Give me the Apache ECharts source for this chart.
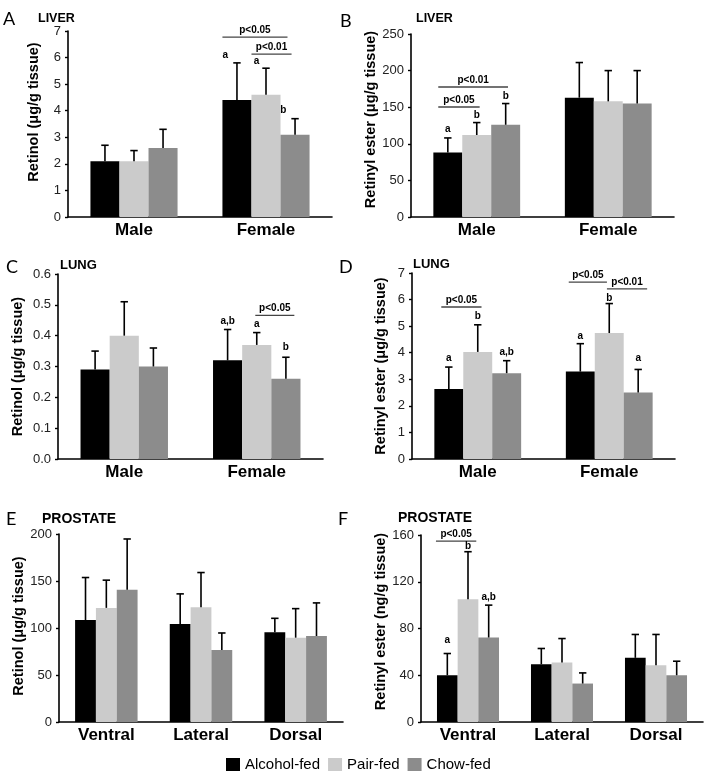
<!DOCTYPE html>
<html><head><meta charset="utf-8">
<script src="https://cdn.jsdelivr.net/npm/echarts@6/dist/echarts.min.js"></script>
<style>html,body{margin:0;padding:0;background:#fff}#c{width:706px;height:776px}</style>
</head><body><div id="c"></div>
<script>
// ---------- data ----------
const groupNames = ['Alcohol-fed', 'Pair-fed', 'Chow-fed'];
const sexCats = ['Male', 'Female'];
const lobeCats = ['Ventral', 'Lateral', 'Dorsal'];

// A: Liver retinol (µg/g)
const aAlcohol = [2.1, 4.4], aPair = [2.1, 4.6], aChow = [2.6, 3.1];
const aAlcoholErr = [2.7, 5.8], aPairErr = [2.5, 5.6], aChowErr = [3.3, 3.7];
// B: Liver retinyl ester (µg/g)
const bAlcohol = [88, 163], bPair = [112, 158], bChow = [126, 155];
const bAlcoholErr = [108, 211], bPairErr = [129, 200], bChowErr = [155, 200];
// C: Lung retinol (µg/g)
const cAlcohol = [0.29, 0.32], cPair = [0.40, 0.37], cChow = [0.30, 0.26];
const cAlcoholErr = [0.35, 0.42], cPairErr = [0.51, 0.41], cChowErr = [0.36, 0.33];
// D: Lung retinyl ester (µg/g)
const dAlcohol = [2.63, 3.29], dPair = [4.03, 4.74], dChow = [3.23, 2.5];
const dAlcoholErr = [3.46, 4.34], dPairErr = [5.05, 5.85], dChowErr = [3.7, 3.37];
// E: Prostate retinol (µg/g)
const eAlcohol = [108.5, 104.3, 95.4], ePair = [121.4, 122, 89.7], eChow = [140.6, 76.5, 91.5];
const eAlcoholErr = [153.7, 136.3, 110.3], ePairErr = [150.9, 159, 120.6], eChowErr = [194.7, 94.7, 126.7];
// F: Prostate retinyl ester (ng/g)
const fAlcohol = [40, 49.4, 54.9], fPair = [105.1, 50.9, 48.6], fChow = [72.3, 32.9, 40];
const fAlcoholErr = [58.6, 62.9, 74.9], fPairErr = [145.7, 71.4, 74.9], fChowErr = [100, 42, 52];

// axis ranges / ticks
const aTicks = {min: 0, max: 7, interval: 1};
const bTicks = {min: 0, max: 250, interval: 50};
const cTicks = {min: 0, max: 0.6, interval: 0.1};
const dTicks = {min: 0, max: 7, interval: 1};
const eTicks = {min: 0, max: 200, interval: 50};
const fTicks = {min: 0, max: 160, interval: 40};

// significance brackets: [category, fromBar, toBar, yValue, text]
const aBrackets = [[1, 0.0, 2.24, 6.77, 'p<0.05'], [1, 1.0, 2.38, 6.13, 'p<0.01']];
const bBrackets = [[0, 0.17, 2.58, 177.6, 'p<0.01'], [0, 0.17, 1.6, 150.3, 'p<0.05']];
const cBrackets = [[1, 1.45, 2.79, 0.466, 'p<0.05']];
const dBrackets = [[0, 0.24, 1.63, 5.72, 'p<0.05'], [1, 0.1, 1.42, 6.66, 'p<0.05'], [1, 1.42, 2.81, 6.40, 'p<0.01']];
const eBrackets = [];
const fBrackets = [[0, -0.05, 1.9, 154.8, 'p<0.05']];

// letter labels: [category, barPosition, yValue, text]
const aLetters = [[1, 0.1, 6.1, 'a'], [1, 1.17, 5.87, 'a'], [1, 2.1, 4.03, 'b']];
const bLetters = [[0, 0.5, 120, 'a'], [0, 1.5, 139, 'b'], [0, 2.5, 165, 'b']];
const cLetters = [[1, 0.5, 0.448, 'a,b'], [1, 1.5, 0.436, 'a'], [1, 2.5, 0.363, 'b']];
const dLetters = [[0, 0.5, 3.80, 'a'], [0, 1.5, 5.38, 'b'], [0, 2.5, 4.03, 'a,b'],
                  [1, 0.5, 4.63, 'a'], [1, 1.5, 6.06, 'b'], [1, 2.5, 3.80, 'a']];
const eLetters = [];
const fLetters = [[0, 0.5, 70, 'a'], [0, 1.5, 150.6, 'b'], [0, 2.5, 107, 'a,b']];

// ---------- styling ----------
const colors = ['#000000', '#cbcbcb', '#8c8c8c'];
const FONT = 'Liberation Sans, Arial, sans-serif';
const BAR_FRAC = 0.22;

const panels = [
  {grid: {left: 68, top: 31, width: 264, height: 186}, cats: sexCats, ticks: aTicks,
   means: [aAlcohol, aPair, aChow], errs: [aAlcoholErr, aPairErr, aChowErr],
   name: 'Retinol (\u03bcg/g tissue)', nameGap: 27, namePad: [0, 0, 0, 24], brackets: aBrackets, letters: aLetters, dec: 0},
  {grid: {left: 411, top: 34, width: 263, height: 183}, cats: sexCats, ticks: bTicks,
   means: [bAlcohol, bPair, bChow], errs: [bAlcoholErr, bPairErr, bChowErr],
   name: 'Retinyl ester (\u03bcg/g tissue)', nameGap: 22, namePad: [0, 0, 0, 12], brackets: bBrackets, letters: bLetters, dec: 0},
  {grid: {left: 58, top: 274, width: 265, height: 185}, cats: sexCats, ticks: cTicks,
   means: [cAlcohol, cPair, cChow], errs: [cAlcoholErr, cPairErr, cChowErr],
   name: 'Retinol (\u03bcg/g tissue)', nameGap: 33, namePad: [0, 0, 0, 0], brackets: cBrackets, letters: cLetters, dec: 1},
  {grid: {left: 412, top: 273, width: 263, height: 186}, cats: sexCats, ticks: dTicks,
   means: [dAlcohol, dPair, dChow], errs: [dAlcoholErr, dPairErr, dChowErr],
   name: 'Retinyl ester (\u03bcg/g tissue)', nameGap: 24, namePad: [0, 0, 0, 0], brackets: dBrackets, letters: dLetters, dec: 0},
  {grid: {left: 59, top: 534, width: 284, height: 188}, cats: lobeCats, ticks: eTicks,
   means: [eAlcohol, ePair, eChow], errs: [eAlcoholErr, ePairErr, eChowErr],
   name: 'Retinol (\u03bcg/g tissue)', nameGap: 32, namePad: [0, 0, 0, 4], brackets: eBrackets, letters: eLetters, dec: 0},
  {grid: {left: 421, top: 535, width: 282, height: 187}, cats: lobeCats, ticks: fTicks,
   means: [fAlcohol, fPair, fChow], errs: [fAlcoholErr, fPairErr, fChowErr],
   name: 'Retinyl ester (ng/g tissue)', nameGap: 32, namePad: [0, 0, 0, 14], brackets: fBrackets, letters: fLetters, dec: 0}
];

const titles = [
  ['A', 3, 10, 18, 'normal'], ['LIVER', 38, 12, 12.5, 'bold'],
  ['B', 340, 12, 18, 'normal'], ['LIVER', 416, 12, 12.5, 'bold'],
  ['C', 6, 258, 18, 'normal'], ['LUNG', 60, 259, 13, 'bold'],
  ['D', 339, 258, 18, 'normal'], ['LUNG', 413, 258, 13, 'bold'],
  ['E', 6, 510, 18, 'normal'], ['PROSTATE', 42, 512, 14, 'bold'],
  ['F', 338, 510, 18, 'normal'], ['PROSTATE', 398, 511, 14, 'bold']
];

const grids = [], xAxes = [], yAxes = [], series = [];

function barX(api, cat, pos) {
  const band = api.size([1, 0])[0];
  const bw = band * BAR_FRAC;
  return api.coord([cat, 0])[0] - 1.5 * bw + pos * bw;
}

panels.forEach((p, i) => {
  grids.push(Object.assign({containLabel: false}, p.grid));
  xAxes.push({
    type: 'category', gridIndex: i, data: p.cats,
    axisLine: {lineStyle: {color: '#000', width: 1.6}},
    axisTick: {show: false},
    axisLabel: {fontFamily: FONT, fontWeight: 'bold', fontSize: 17, color: '#000', margin: 5}
  });
  yAxes.push({
    type: 'value', gridIndex: i, min: p.ticks.min, max: p.ticks.max, interval: p.ticks.interval,
    name: p.name, nameLocation: 'middle', nameGap: p.nameGap,
    nameTextStyle: {fontFamily: FONT, fontWeight: 'bold', fontSize: 14.5, color: '#000', padding: p.namePad},
    axisLine: {show: true, lineStyle: {color: '#000', width: 1.6}},
    axisTick: {show: true, length: 3, lineStyle: {color: '#000', width: 1.4}},
    splitLine: {show: false},
    axisLabel: {fontFamily: FONT, fontSize: 13, color: '#222', margin: 7,
      formatter: v => v.toFixed(p.dec)}
  });
  p.means.forEach((m, g) => {
    series.push({
      type: 'bar', name: groupNames[g], xAxisIndex: i, yAxisIndex: i, data: m,
      barWidth: (BAR_FRAC * 100) + '%', barGap: '0%',
      itemStyle: {color: colors[g]}, silent: true, z: 2
    });
  });
  // error bars
  const errData = [];
  p.means.forEach((m, g) => m.forEach((v, c) => errData.push([c, g, v, p.errs[g][c]])));
  series.push({
    type: 'custom', xAxisIndex: i, yAxisIndex: i, data: errData, z: 3, silent: true,
    encode: {x: 0, y: 3},
    renderItem: (params, api) => {
      const c = api.value(0), g = api.value(1);
      const x = barX(api, c, g + 0.5);
      const y0 = api.coord([c, api.value(2)])[1];
      const y1 = api.coord([c, api.value(3)])[1];
      const st = {stroke: '#000', lineWidth: 1.6};
      return {type: 'group', children: [
        {type: 'line', shape: {x1: x, y1: y0, x2: x, y2: y1}, style: st},
        {type: 'line', shape: {x1: x - 3.7, y1: y1, x2: x + 3.7, y2: y1}, style: st}
      ]};
    }
  });
  // brackets
  if (p.brackets.length) {
    series.push({
      type: 'custom', xAxisIndex: i, yAxisIndex: i, z: 4, silent: true,
      data: p.brackets.map(b => [b[0], b[3]]),
      renderItem: (params, api) => {
        const b = p.brackets[params.dataIndex];
        const x1 = barX(api, b[0], b[1]), x2 = barX(api, b[0], b[2]);
        const y = api.coord([b[0], b[3]])[1];
        return {type: 'group', children: [
          {type: 'line', shape: {x1: x1, y1: y, x2: x2, y2: y}, style: {stroke: '#444', lineWidth: 1.3}},
          {type: 'text', x: (x1 + x2) / 2, y: y - 2,
           style: {text: b[4], fill: '#000', font: 'bold 10px ' + FONT, textAlign: 'center', textVerticalAlign: 'bottom'}}
        ]};
      }
    });
  }
  if (p.letters.length) {
    series.push({
      type: 'custom', xAxisIndex: i, yAxisIndex: i, z: 4, silent: true,
      data: p.letters.map(l => [l[0], l[2]]),
      renderItem: (params, api) => {
        const l = p.letters[params.dataIndex];
        const x = barX(api, l[0], l[1]);
        const y = api.coord([l[0], l[2]])[1];
        return {type: 'text', x: x, y: y,
          style: {text: l[3], fill: '#000', font: 'bold 10px ' + FONT, textAlign: 'center', textVerticalAlign: 'middle'}};
      }
    });
  }
});

const chart = echarts.init(document.getElementById('c'), null, {renderer: 'canvas'});
chart.setOption({
  animation: false,
  backgroundColor: '#fff',
  title: titles.map(t => ({
    text: t[0], left: t[1], top: t[2], padding: 0,
    textStyle: {fontFamily: t[4] === 'bold' ? FONT : 'Lato, Open Sans, sans-serif',
      fontWeight: t[4], fontSize: t[3], color: '#000'}
  })),
  legend: {
    data: groupNames, left: 226, top: 757, itemWidth: 14, itemHeight: 13, itemGap: 8,
    icon: 'rect', padding: 0,
    textStyle: {fontFamily: FONT, fontSize: 15, color: '#000'}
  },
  grid: grids, xAxis: xAxes, yAxis: yAxes, series: series
});
</script>
</body></html>
